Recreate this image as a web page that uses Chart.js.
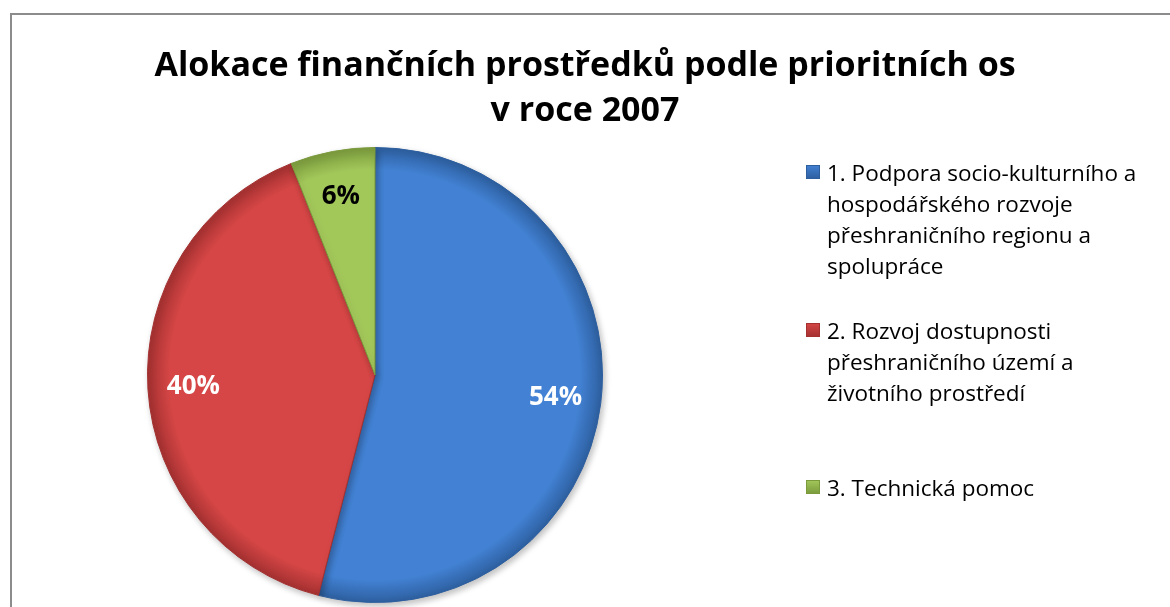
<!DOCTYPE html>
<html>
<head>
<meta charset="utf-8">
<script src="https://cdn.jsdelivr.net/npm/chart.js@4"></script>
<style>
  html, body { margin: 0; padding: 0; background: #fff; }
  #wrap { position: relative; width: 1170px; height: 607px; overflow: hidden; font-family: "Open Sans", sans-serif; }
  #frame { position: absolute; left: 10px; top: 13px; width: 1200px; height: 650px; border: 2px solid #8c8c8c; box-sizing: border-box; }
  #chart { position: absolute; left: 0; top: 0; }
  #title { position: absolute; left: 0; top: 41px; width: 1170px; text-align: center; font-weight: 700; font-size: 34px; line-height: 45px; color: #000; }
  #legend { position: absolute; left: 806px; top: 0; }
  .item { position: absolute; left: 0; width: 360px; }
  .box { position: absolute; left: 0; width: 14px; height: 14px; }
  .txt { position: absolute; left: 21px; font-size: 22.5px; line-height: 31px; color: #000; white-space: nowrap; }
</style>
</head>
<body>
<div id="wrap">
  <div id="frame"></div>
  <canvas id="chart" width="1170" height="607"></canvas>
  <div id="title">Alokace finančních prostředků podle prioritních os<br>v roce 2007</div>
  <div id="legend"></div>
</div>
<script>
// data
const labels = [
  ['1. Podpora socio-kulturního a', 'hospodářského rozvoje', 'přeshraničního regionu a', 'spolupráce'],
  ['2. Rozvoj dostupnosti', 'přeshraničního území a', 'životního prostředí'],
  ['3. Technická pomoc']
];
const values = [54, 40, 6];
const colors = ['#4281d3', '#d64646', '#a3c85a'];
const edgeColors = ['#2d5f9f', '#a43030', '#7a9a3c'];
const labelColors = ['#fff', '#fff', '#000'];

// legend (html, built from the arrays)
const legendTops = [157, 315, 472];
const legend = document.getElementById('legend');
labels.forEach((lines, i) => {
  const item = document.createElement('div');
  item.className = 'item';
  item.style.top = legendTops[i] + 'px';
  const box = document.createElement('div');
  box.className = 'box';
  box.style.top = '8px';
  box.style.background = `linear-gradient(to bottom, ${colors[i]}, ${edgeColors[i]})`;
  box.style.boxShadow = 'inset 0 0 0 1px ' + edgeColors[i];
  const txt = document.createElement('div');
  txt.className = 'txt';
  txt.innerHTML = lines.join('<br>');
  item.appendChild(box);
  item.appendChild(txt);
  legend.appendChild(item);
});

const total = values.reduce((a, b) => a + b, 0);

const pctLabels = {
  id: 'pctLabels',
  afterDatasetsDraw(chart) {
    const ctx = chart.ctx;
    const meta = chart.getDatasetMeta(0);
    ctx.save();
    ctx.font = 'bold 26px "Open Sans"';
    ctx.textAlign = 'center';
    ctx.textBaseline = 'middle';
    meta.data.forEach((arc, i) => {
      const p = arc.getProps(['x', 'y', 'startAngle', 'endAngle', 'outerRadius'], true);
      const mid = (p.startAngle + p.endAngle) / 2;
      const r = p.outerRadius * 0.8;
      ctx.fillStyle = labelColors[i];
      ctx.fillText(Math.round(values[i] / total * 100) + '%', p.x + Math.cos(mid) * r, p.y + Math.sin(mid) * r);
    });
    ctx.restore();
  }
};

const shadow = {
  id: 'shadow',
  beforeDatasetsDraw(chart) {
    const ctx = chart.ctx;
    ctx.save();
    ctx.shadowColor = 'rgba(0,0,0,0.25)';
    ctx.shadowBlur = 6;
    ctx.shadowOffsetX = 2;
    ctx.shadowOffsetY = 3;
  },
  afterDatasetsDraw(chart) {
    chart.ctx.restore();
  }
};

function fill(context) {
  const chart = context.chart;
  const a = chart.chartArea;
  if (!a) return colors[context.dataIndex];
  const cx = (a.left + a.right) / 2, cy = (a.top + a.bottom) / 2;
  const r = Math.min(a.width, a.height) / 2;
  const g = chart.ctx.createRadialGradient(cx, cy, 0, cx, cy, r);
  const i = context.dataIndex;
  g.addColorStop(0, colors[i]);
  g.addColorStop(0.9, colors[i]);
  g.addColorStop(1, edgeColors[i]);
  return g;
}

new Chart(document.getElementById('chart'), {
  type: 'pie',
  data: {
    labels: labels,
    datasets: [{
      data: values,
      backgroundColor: fill,
      borderColor: edgeColors,
      borderWidth: 1
    }]
  },
  options: {
    responsive: false,
    animation: false,
    layout: { padding: { left: 147, top: 147, right: 567, bottom: 4 } },
    plugins: {
      legend: { display: false },
      tooltip: { enabled: false },
      title: { display: false }
    }
  },
  plugins: [shadow, pctLabels]
});
</script>
</body>
</html>
